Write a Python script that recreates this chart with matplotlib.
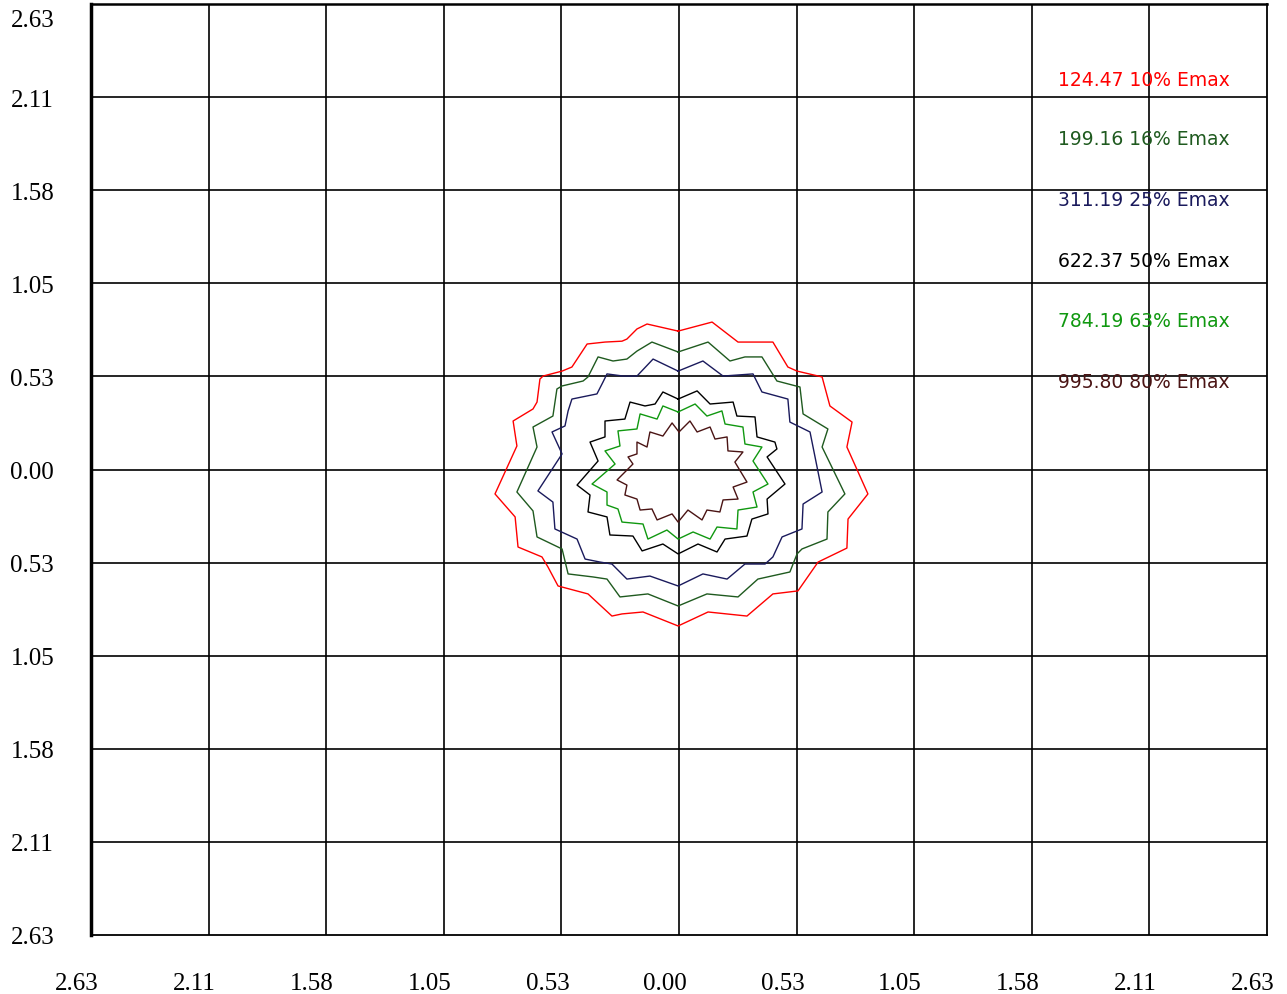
import matplotlib
matplotlib.use("Agg")
import matplotlib.pyplot as plt
import matplotlib.transforms as mtransforms

# ---- data ----
tick_values = [-2.63, -2.104, -1.578, -1.052, -0.526, 0.0, 0.526, 1.052, 1.578, 2.104, 2.63]
tick_labels = ["2.63", "2.11", "1.58", "1.05", "0.53", "0.00", "0.53", "1.05", "1.58", "2.11", "2.63"]

level_labels = ["124.47 10% Emax", "199.16 16% Emax", "311.19 25% Emax",
                "622.37 50% Emax", "784.19 63% Emax", "995.80 80% Emax"]
level_colors = ["#ff0000", "#1f5a1f", "#1a1a5c", "#000000", "#109810", "#4a1414"]

red_x = [-0.004, -0.143, -0.188, -0.233, -0.255, -0.331, -0.411, -0.479, -0.523, -0.608, -0.622,
         -0.635, -0.653, -0.742, -0.725, -0.823, -0.733, -0.720, -0.613, -0.586, -0.541, -0.407,
         -0.300, -0.255, -0.161, -0.004, 0.130, 0.304, 0.420, 0.532, 0.622, 0.751, 0.756, 0.845,
         0.751, 0.774, 0.675, 0.640, 0.528, 0.487, 0.420, 0.264, 0.148]
red_y = [0.782, 0.822, 0.794, 0.737, 0.725, 0.720, 0.709, 0.579, 0.556, 0.528, 0.511,
         0.381, 0.342, 0.274, 0.133, -0.138, -0.268, -0.438, -0.494, -0.551, -0.658, -0.703,
         -0.828, -0.816, -0.805, -0.884, -0.805, -0.828, -0.703, -0.686, -0.523, -0.444, -0.280, -0.138,
         0.127, 0.268, 0.359, 0.523, 0.556, 0.579, 0.720, 0.720, 0.833]

dkgreen_x = [-0.004, -0.121, -0.188, -0.233, -0.295, -0.362, -0.407, -0.429, -0.523, -0.546, -0.564,
             -0.653, -0.635, -0.725, -0.653, -0.635, -0.523, -0.496, -0.385, -0.322, -0.264, -0.139,
             -0.004, 0.125, 0.264, 0.353, 0.496, 0.528, 0.550, 0.662, 0.666, 0.742, 0.640, 0.666,
             0.555, 0.541, 0.438, 0.371, 0.295, 0.228, 0.130]
dkgreen_y = [0.664, 0.720, 0.669, 0.624, 0.613, 0.636, 0.523, 0.500, 0.472, 0.455, 0.302,
             0.240, 0.127, -0.127, -0.234, -0.381, -0.449, -0.590, -0.607, -0.619, -0.720, -0.703,
             -0.771, -0.703, -0.720, -0.619, -0.579, -0.477, -0.449, -0.393, -0.240, -0.138, 0.127, 0.229,
             0.314, 0.466, 0.500, 0.636, 0.636, 0.613, 0.720]

navy_x = [-0.004, -0.116, -0.188, -0.250, -0.322, -0.340, -0.367, -0.479, -0.496, -0.510, -0.568,
          -0.523, -0.631, -0.564, -0.555, -0.456, -0.420, -0.353, -0.300, -0.233, -0.130, -0.004,
          0.107, 0.215, 0.295, 0.385, 0.420, 0.461, 0.550, 0.555, 0.640, 0.586, 0.496, 0.487,
          0.371, 0.331, 0.197, 0.107]
navy_y = [0.556, 0.624, 0.528, 0.528, 0.540, 0.494, 0.427, 0.398, 0.331, 0.246, 0.212,
          0.088, -0.121, -0.184, -0.336, -0.393, -0.506, -0.523, -0.534, -0.619, -0.602, -0.658,
          -0.590, -0.619, -0.534, -0.534, -0.494, -0.381, -0.336, -0.195, -0.127, 0.212, 0.268, 0.398,
          0.438, 0.540, 0.528, 0.613]

black_x = [-0.004, -0.072, -0.107, -0.152, -0.219, -0.242, -0.331, -0.331, -0.398, -0.362, -0.456,
           -0.398, -0.407, -0.322, -0.309, -0.206, -0.165, -0.072, -0.004, 0.085, 0.170, 0.206,
           0.304, 0.326, 0.398, 0.394, 0.474, 0.394, 0.438, 0.429, 0.349, 0.340, 0.259, 0.242,
           0.139, 0.081]
black_y = [0.398, 0.438, 0.370, 0.359, 0.381, 0.285, 0.274, 0.184, 0.155, 0.048, -0.088,
           -0.144, -0.240, -0.268, -0.370, -0.376, -0.460, -0.421, -0.477, -0.421, -0.466, -0.393,
           -0.376, -0.280, -0.251, -0.167, -0.082, 0.071, 0.116, 0.155, 0.184, 0.297, 0.302, 0.381,
           0.370, 0.444]

green_x = [-0.004, -0.072, -0.098, -0.174, -0.188, -0.273, -0.264, -0.331, -0.286, -0.389, -0.322,
           -0.322, -0.273, -0.255, -0.161, -0.139, -0.054, -0.004, 0.063, 0.139, 0.170, 0.259,
           0.264, 0.349, 0.331, 0.398, 0.331, 0.371, 0.295, 0.286, 0.206, 0.192, 0.125, 0.072]
green_y = [0.325, 0.359, 0.285, 0.314, 0.229, 0.218, 0.133, 0.105, 0.031, -0.082, -0.127,
           -0.201, -0.223, -0.297, -0.308, -0.393, -0.342, -0.393, -0.353, -0.393, -0.325, -0.336,
           -0.229, -0.212, -0.127, -0.082, 0.048, 0.127, 0.144, 0.240, 0.257, 0.331, 0.302, 0.370]

brown_x = [0.000, -0.031, -0.072, -0.130, -0.143, -0.188, -0.188, -0.228, -0.206, -0.277, -0.233,
           -0.242, -0.188, -0.174, -0.121, -0.098, -0.031, -0.004, 0.040, 0.103, 0.125, 0.183,
           0.197, 0.264, 0.242, 0.304, 0.250, 0.286, 0.219, 0.215, 0.161, 0.139, 0.081, 0.049]
brown_y = [0.212, 0.263, 0.189, 0.212, 0.127, 0.155, 0.088, 0.071, 0.031, -0.059, -0.088,
           -0.144, -0.167, -0.229, -0.223, -0.285, -0.251, -0.297, -0.229, -0.285, -0.229, -0.240,
           -0.172, -0.167, -0.099, -0.071, 0.042, 0.099, 0.105, 0.184, 0.172, 0.240, 0.212, 0.274]

contours = [(red_x, red_y), (dkgreen_x, dkgreen_y), (navy_x, navy_y),
            (black_x, black_y), (green_x, green_y), (brown_x, brown_y)]

# ---- figure ----
fig = plt.figure(figsize=(12.87, 9.95), dpi=100)
ax = fig.add_axes([91 / 1287, 1 - 936 / 995, 1176 / 1287, 931 / 995])
ax.set_xlim(-2.63, 2.63)
ax.set_ylim(-2.63, 2.63)

for v in tick_values[1:-1]:
    ax.axvline(v, color="black", lw=1.2, zorder=1)
    ax.axhline(v, color="black", lw=1.2, zorder=1)

for (xs, ys), c in zip(contours, level_colors):
    ax.plot(list(xs) + [xs[0]], list(ys) + [ys[0]], color=c, lw=1.0, zorder=3)

for sp in ["right", "bottom"]:
    ax.spines[sp].set_linewidth(1.3)
ax.spines["top"].set_linewidth(1.8)
ax.spines["left"].set_linewidth(2.5)

serif = ["Liberation Serif", "DejaVu Serif"]
ax.set_xticks(tick_values)
ax.set_xticklabels(tick_labels, family=serif, fontsize=18)
ax.set_yticks(tick_values)
ax.set_yticklabels(tick_labels, family=serif, fontsize=18, ha="left")
ax.tick_params(axis="both", length=0)
ax.tick_params(axis="x", pad=27)
ax.tick_params(axis="y", pad=58)

# shift x tick labels slightly left, top y label down
offset = mtransforms.ScaledTranslation(-14 / 100, 0, fig.dpi_scale_trans)
for lab in ax.get_xticklabels():
    lab.set_transform(lab.get_transform() + offset)
ylabs = ax.get_yticklabels()
ylabs[-1].set_va("top")
ylabs[-1].set_transform(ylabs[-1].get_transform()
                        + mtransforms.ScaledTranslation(0, -5 / 100, fig.dpi_scale_trans))

legend_y = [0.919, 0.855, 0.790, 0.724, 0.660, 0.594]
for lab, c, yy in zip(level_labels, level_colors, legend_y):
    ax.text(0.822, yy, lab, color=c, transform=ax.transAxes, fontsize=13.5,
            family=["DejaVu Sans"], va="center", ha="left", zorder=4)

fig.savefig("out.png", dpi=100)
